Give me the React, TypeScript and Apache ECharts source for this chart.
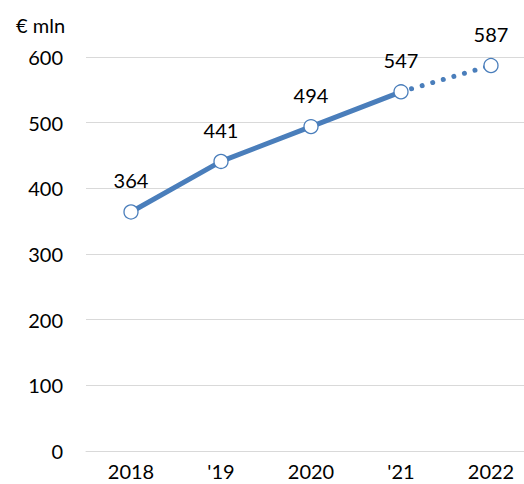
import React, { useEffect, useRef } from "react";
import * as echarts from "echarts";

const categories = ["2018", "'19", "2020", "'21", "2022"];
const actualValues = [364, 441, 494, 547, null];
const forecastValues = [null, null, null, 547, 587];
const labelValues = [364, 441, 494, 547, 587];

const BLUE = "#4a7ebb";
const FONT = "Lato, 'Open Sans', sans-serif";

export default function App() {
  const ref = useRef<HTMLDivElement>(null);
  useEffect(() => {
    if (!ref.current) return;
    const chart = echarts.init(ref.current, undefined, { renderer: "svg" });
    chart.setOption({
      animation: false,
      backgroundColor: "#ffffff",
      textStyle: { fontFamily: FONT },
      title: {
        text: "€ mln",
        left: 11,
        top: 10,
        textStyle: { fontFamily: FONT, fontSize: 20, fontWeight: "normal", color: "#000" },
      },
      grid: { left: 86, right: 0, top: 57, bottom: 33, containLabel: false },
      xAxis: {
        type: "category",
        data: categories,
        boundaryGap: true,
        axisLine: { show: true, lineStyle: { color: "#d9d9d9", width: 1 } },
        axisTick: { show: false },
        axisLabel: { color: "#000", fontSize: 20, fontFamily: FONT, margin: 10 },
      },
      yAxis: {
        type: "value",
        min: 0,
        max: 600,
        interval: 100,
        axisLine: { show: false },
        axisTick: { show: false },
        splitLine: { lineStyle: { color: "#d9d9d9", width: 1 } },
        axisLabel: { color: "#000", fontSize: 20, fontFamily: FONT, margin: 23 },
      },
      series: [
        {
          type: "line",
          data: forecastValues,
          symbol: "none",
          lineStyle: { color: BLUE, width: 5, type: [0.01, 11], cap: "round" },
          z: 2,
        },
        {
          type: "line",
          data: actualValues,
          symbol: "none",
          lineStyle: { color: BLUE, width: 5, cap: "round" },
          z: 3,
        },
        {
          type: "line",
          data: labelValues,
          lineStyle: { opacity: 0 },
          symbol: "circle",
          symbolSize: 14,
          itemStyle: { color: "#ffffff", borderColor: BLUE, borderWidth: 1.3 },
          label: {
            show: true,
            position: "top",
            distance: 14,
            color: "#000",
            fontSize: 20,
            fontFamily: FONT,
          },
          z: 4,
        },
      ],
    });
    return () => chart.dispose();
  }, []);
  return (
    <div style={{ position: "fixed", left: 0, top: 0, width: 524, height: 484, overflow: "hidden" }}>
      <div ref={ref} style={{ width: 536, height: 484 }} />
    </div>
  );
}
